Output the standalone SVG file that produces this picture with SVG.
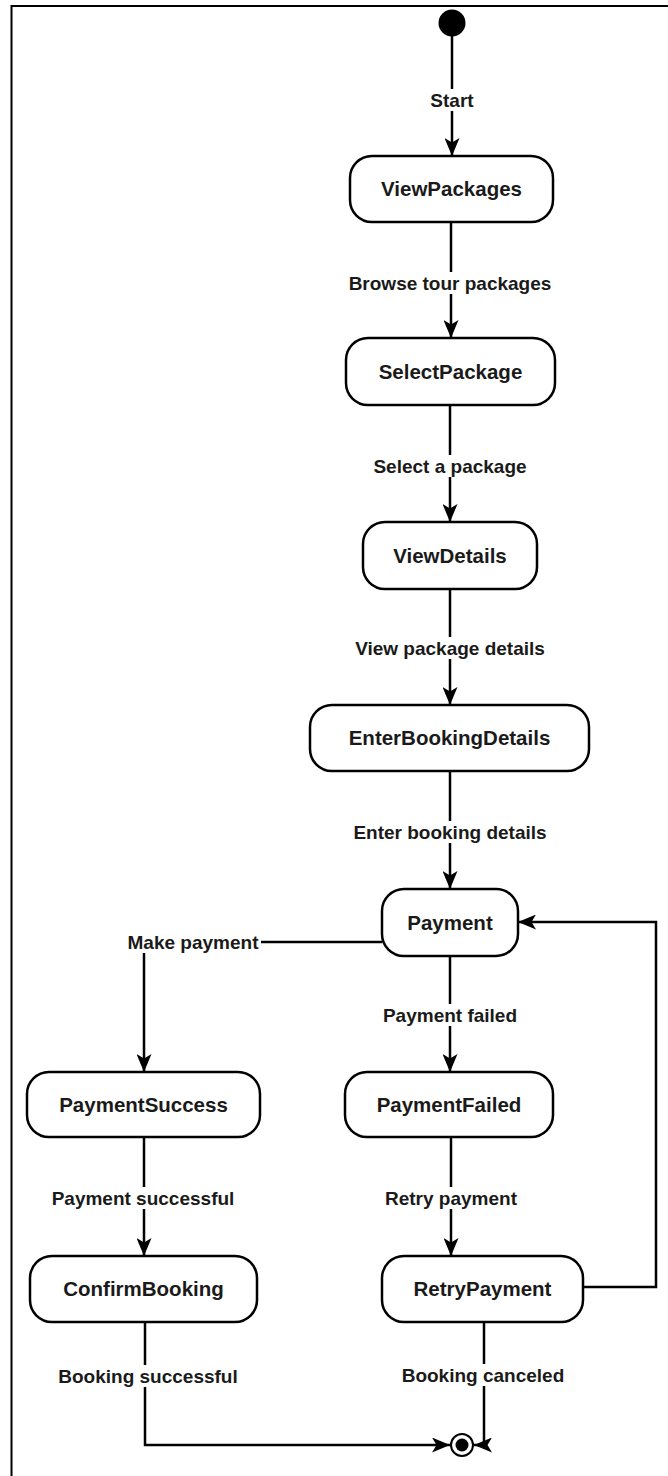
<svg xmlns="http://www.w3.org/2000/svg" width="668" height="1476" viewBox="0 0 668 1476">
  <defs>
    <style>
      .state rect { fill: #ffffff; stroke: #000000; stroke-width: 2.5; }
      .state text { font-family: "Liberation Sans", Arial, sans-serif; font-weight: bold; font-size: 20.5px; fill: #1a1a1a; text-anchor: middle; }
      .edge { fill: none; stroke: #000000; stroke-width: 2.5; }
      .lbl rect { fill: #ffffff; stroke: none; }
      .lbl text { font-family: "Liberation Sans", Arial, sans-serif; font-weight: bold; font-size: 19px; fill: #1a1a1a; text-anchor: middle; }
    </style>
    <marker id="arrow" viewBox="0 0 18 15" refX="18" refY="7.5" markerWidth="18" markerHeight="15" markerUnits="userSpaceOnUse" orient="auto">
      <path d="M0,0 L18,7.5 L0,15 L4.5,7.5 Z" fill="#000000"/>
    </marker>
  </defs>

  <rect width="668" height="1476" fill="#ffffff"/>

  <!-- frame -->
  <path d="M11.5,1476 V6 H668" fill="none" stroke="#000000" stroke-width="2"/>

  <!-- transitions -->
  <g id="connectors">
    <path class="edge" d="M452,36 V156" marker-end="url(#arrow)"/>
    <path class="edge" d="M451,222 V338" marker-end="url(#arrow)"/>
    <path class="edge" d="M450,405 V522" marker-end="url(#arrow)"/>
    <path class="edge" d="M450,589 V705" marker-end="url(#arrow)"/>
    <path class="edge" d="M450,771 V889" marker-end="url(#arrow)"/>
    <path class="edge" d="M382,942 H144 V1072" marker-end="url(#arrow)"/>
    <path class="edge" d="M450,956 V1072" marker-end="url(#arrow)"/>
    <path class="edge" d="M144,1137 V1256" marker-end="url(#arrow)"/>
    <path class="edge" d="M451,1137 V1256" marker-end="url(#arrow)"/>
    <path class="edge" d="M583,1287 H656 V922 H518" marker-end="url(#arrow)"/>
    <path class="edge" d="M145,1322 V1445 H450" marker-end="url(#arrow)"/>
    <path class="edge" d="M484,1322 V1445 H474" marker-end="url(#arrow)"/>

    <g class="lbl">
      <rect x="427" y="89" width="50" height="22"/>
      <text x="452" y="107">Start</text>
      <rect x="347" y="272" width="207" height="22"/>
      <text x="450" y="290">Browse tour packages</text>
      <rect x="372" y="455" width="156" height="22"/>
      <text x="450" y="473">Select a package</text>
      <rect x="353" y="637" width="194" height="22"/>
      <text x="450" y="655">View package details</text>
      <rect x="352" y="821" width="197" height="22"/>
      <text x="450" y="839">Enter booking details</text>
      <rect x="126" y="931" width="135" height="22"/>
      <text x="193" y="949">Make payment</text>
      <rect x="382" y="1004" width="137" height="22"/>
      <text x="450" y="1022">Payment failed</text>
      <rect x="50" y="1187" width="187" height="22"/>
      <text x="143" y="1205">Payment successful</text>
      <rect x="384" y="1187" width="135" height="22"/>
      <text x="451" y="1205">Retry payment</text>
      <rect x="57" y="1365" width="183" height="22"/>
      <text x="148" y="1383">Booking successful</text>
      <rect x="401" y="1364" width="165" height="22"/>
      <text x="483" y="1382">Booking canceled</text>
    </g>
  </g>

  <!-- initial pseudo-state -->
  <g id="start">
    <circle cx="452" cy="23" r="13.5" fill="#000000"/>
  </g>

  <g id="ViewPackages" class="state">
    <rect x="350" y="156" width="203" height="66" rx="22" ry="22"/>
    <text x="451.5" y="196">ViewPackages</text>
  </g>

  <g id="SelectPackage" class="state">
    <rect x="346" y="338" width="209" height="67" rx="22" ry="22"/>
    <text x="450.5" y="379">SelectPackage</text>
  </g>

  <g id="ViewDetails" class="state">
    <rect x="363" y="522" width="174" height="67" rx="22" ry="22"/>
    <text x="450" y="563">ViewDetails</text>
  </g>

  <g id="EnterBookingDetails" class="state">
    <rect x="310" y="705" width="279" height="66" rx="22" ry="22"/>
    <text x="449.5" y="745">EnterBookingDetails</text>
  </g>

  <g id="Payment" class="state">
    <rect x="382" y="889" width="136" height="67" rx="22" ry="22"/>
    <text x="450" y="930">Payment</text>
  </g>

  <g id="PaymentSuccess" class="state">
    <rect x="27" y="1072" width="233" height="65" rx="22" ry="22"/>
    <text x="143.5" y="1112">PaymentSuccess</text>
  </g>

  <g id="PaymentFailed" class="state">
    <rect x="345" y="1072" width="208" height="65" rx="22" ry="22"/>
    <text x="449" y="1112">PaymentFailed</text>
  </g>

  <g id="ConfirmBooking" class="state">
    <rect x="30" y="1256" width="227" height="66" rx="22" ry="22"/>
    <text x="143.5" y="1296">ConfirmBooking</text>
  </g>

  <g id="RetryPayment" class="state">
    <rect x="382" y="1256" width="201" height="66" rx="22" ry="22"/>
    <text x="482.5" y="1296">RetryPayment</text>
  </g>

  <!-- final pseudo-state -->
  <g id="end">
    <circle cx="462" cy="1445" r="11" fill="#ffffff" stroke="#000000" stroke-width="2"/>
    <circle cx="462" cy="1445" r="6.5" fill="#000000"/>
  </g>
</svg>
